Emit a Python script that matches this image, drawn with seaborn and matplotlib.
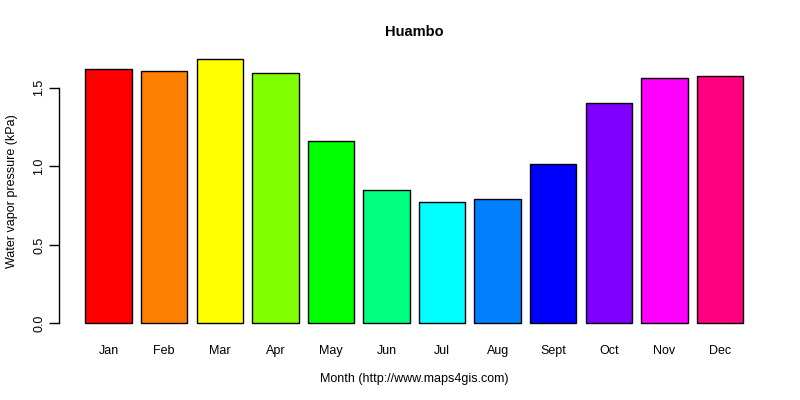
import matplotlib
matplotlib.use("Agg")
import matplotlib.pyplot as plt
import pandas as pd
import seaborn as sns

months = ["Jan", "Feb", "Mar", "Apr", "May", "Jun", "Jul", "Aug", "Sept", "Oct", "Nov", "Dec"]
vapor = [1.617, 1.604, 1.681, 1.592, 1.161, 0.847, 0.770, 0.789, 1.012, 1.401, 1.560, 1.573]
colors = ["#FF0000", "#FF8000", "#FFFF00", "#80FF00", "#00FF00", "#00FF80",
          "#00FFFF", "#0080FF", "#0000FF", "#8000FF", "#FF00FF", "#FF0080"]
yticks = [0.0, 0.5, 1.0, 1.5]

df = pd.DataFrame({"month": months, "vapor": vapor})

sns.set_style("white")
plt.rcParams["font.family"] = ["Liberation Sans", "DejaVu Sans"]
plt.rcParams["text.color"] = "black"
plt.rcParams["axes.labelcolor"] = "black"
plt.rcParams["xtick.color"] = "black"
plt.rcParams["ytick.color"] = "black"

fig = plt.figure(figsize=(8, 4), dpi=100)
ax = fig.add_axes([59.3 / 800, 0.165, 710 / 800, 0.713])

sns.barplot(data=df, x="month", y="vapor", hue="month", palette=colors,
            legend=False, width=0.836, edgecolor="black", linewidth=1,
            saturation=1, ax=ax)

ax.set_xlim(-0.888, 11.888)
ax.set_ylim(-0.0672, 1.748)
ax.set_yticks(yticks)
ax.set_yticklabels([f"{v:.1f}" for v in yticks], rotation=90, va="center", fontsize=9)
ax.tick_params(axis="y", length=7, width=1, color="black", pad=3, left=True)
ax.tick_params(axis="x", length=0, pad=7.6, labelsize=9)

for s in ["top", "right", "bottom"]:
    ax.spines[s].set_visible(False)
ax.spines["left"].set_bounds(0, 1.5)
ax.spines["left"].set_color("black")
ax.spines["left"].set_linewidth(1)

ax.set_title("Huambo", fontsize=10.5, fontweight="bold", pad=9, color="black")
ax.set_xlabel("Month (http://www.maps4gis.com)", fontsize=9, labelpad=12)
ax.set_ylabel("Water vapor pressure (kPa)", fontsize=9, labelpad=11)

fig.savefig("out.png", dpi=100)
